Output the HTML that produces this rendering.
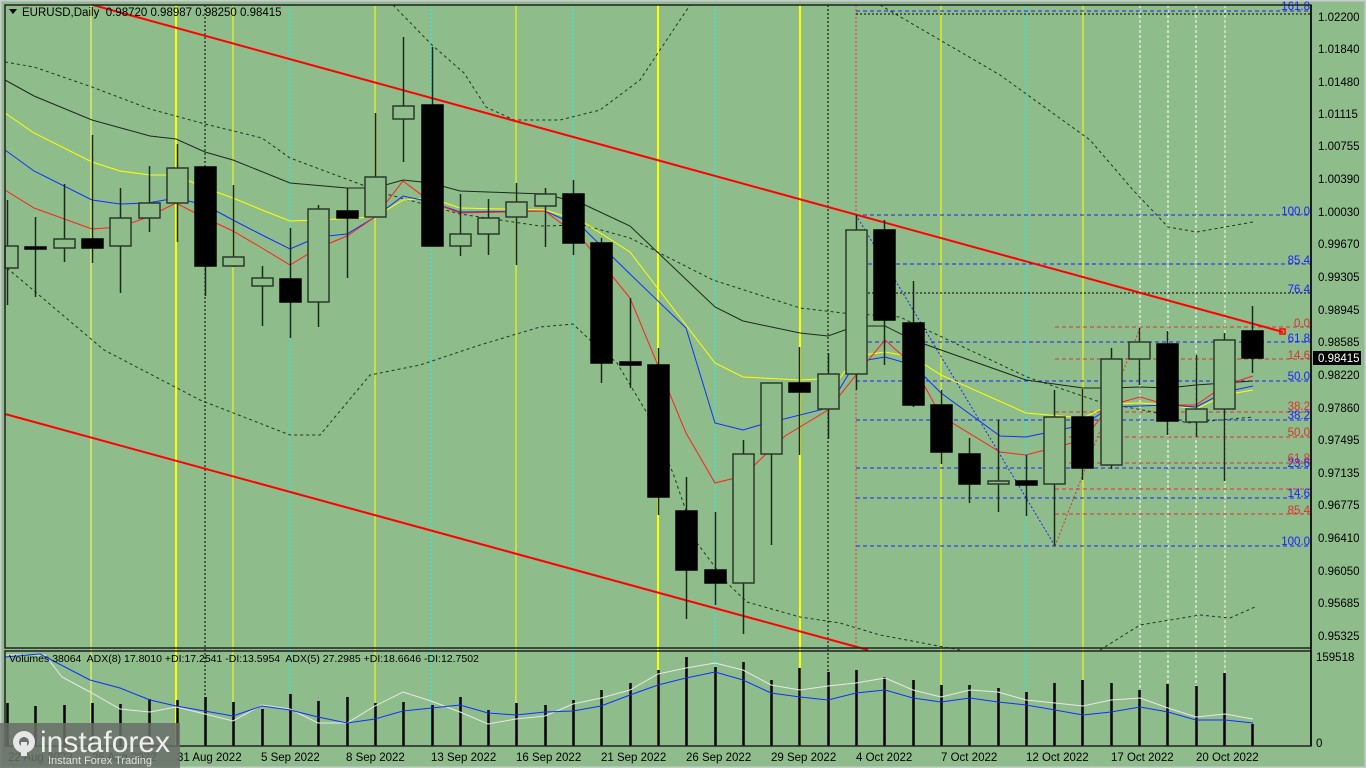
<!DOCTYPE html>
<html><head><meta charset="utf-8"><style>
html,body{margin:0;padding:0;background:#8fbc8b;width:1366px;height:768px;overflow:hidden}
svg{display:block}
text{font-family:"Liberation Sans",sans-serif;font-size:11.5px}
</style></head><body>
<svg id="s" width="1366" height="768" xmlns="http://www.w3.org/2000/svg">
<rect x="0" y="0" width="1366" height="768" fill="#8fbc8b"/>
<rect x="0.5" y="0.5" width="1365" height="767" fill="none" stroke="#c8ccd0" stroke-width="2"/>
<g stroke-width="1" fill="none">
<line x1="91" y1="5" x2="91" y2="746" stroke="#ffff66"/>
<line x1="176" y1="5" x2="176" y2="746" stroke="#ffff00" stroke-width="2"/>
<line x1="205" y1="5" x2="205" y2="746" stroke="#000" stroke-dasharray="2,2"/>
<line x1="233" y1="5" x2="233" y2="746" stroke="#ffff00"/>
<line x1="290" y1="5" x2="290" y2="746" stroke="#00ffff" stroke-dasharray="2,2"/>
<line x1="375" y1="5" x2="375" y2="746" stroke="#ffff00"/>
<line x1="431" y1="5" x2="431" y2="746" stroke="#00ffff" stroke-dasharray="2,2"/>
<line x1="516" y1="5" x2="516" y2="746" stroke="#ffff00"/>
<line x1="573" y1="5" x2="573" y2="746" stroke="#00ffff" stroke-dasharray="2,2"/>
<line x1="658" y1="5" x2="658" y2="746" stroke="#ffff00" stroke-width="2"/>
<line x1="715" y1="5" x2="715" y2="746" stroke="#00ffff" stroke-dasharray="2,2"/>
<line x1="800" y1="5" x2="800" y2="746" stroke="#ffff00" stroke-width="2"/>
<line x1="828" y1="5" x2="828" y2="746" stroke="#000" stroke-dasharray="2,2"/>
<line x1="856" y1="5" x2="856" y2="648" stroke="#ff3030" stroke-dasharray="2,2"/>
<line x1="941" y1="5" x2="941" y2="746" stroke="#ffff00"/>
<line x1="1026" y1="5" x2="1026" y2="746" stroke="#00ffff" stroke-dasharray="2,2"/>
<line x1="1083" y1="5" x2="1083" y2="746" stroke="#ffff00"/>
<line x1="1140" y1="5" x2="1140" y2="746" stroke="#ffffff" stroke-dasharray="3,2"/>
<line x1="1168" y1="5" x2="1168" y2="746" stroke="#ffffff" stroke-dasharray="3,2"/>
<line x1="1196" y1="5" x2="1196" y2="746" stroke="#ffffff" stroke-dasharray="3,2"/>
<line x1="1225" y1="5" x2="1225" y2="746" stroke="#ffffcc" stroke-dasharray="3,2"/>
</g>
<g fill="none" stroke-dasharray="4,3" stroke-width="1">
<line x1="856" y1="11" x2="1311" y2="11" stroke="#2020ff"/>
<line x1="856" y1="14" x2="1311" y2="14" stroke="#000" stroke-dasharray="2,2"/>
<line x1="856" y1="215" x2="1311" y2="215" stroke="#2020ff"/>
<line x1="868" y1="264" x2="1311" y2="264" stroke="#2020ff"/>
<line x1="868" y1="293" x2="1311" y2="293" stroke="#000" stroke-dasharray="2,2"/>
<line x1="868" y1="342" x2="1311" y2="342" stroke="#2020ff"/>
<line x1="856" y1="381" x2="1311" y2="381" stroke="#2020ff"/>
<line x1="856" y1="420" x2="1311" y2="420" stroke="#2020ff"/>
<line x1="856" y1="468" x2="1311" y2="468" stroke="#2020ff"/>
<line x1="856" y1="498" x2="1311" y2="498" stroke="#2020ff"/>
<line x1="856" y1="546" x2="1311" y2="546" stroke="#2020ff"/>
<line x1="1055" y1="327" x2="1311" y2="327" stroke="#e03030"/>
<line x1="1055" y1="359" x2="1311" y2="359" stroke="#e03030"/>
<line x1="1055" y1="412" x2="1311" y2="412" stroke="#e03030"/>
<line x1="1055" y1="437" x2="1311" y2="437" stroke="#e03030"/>
<line x1="1055" y1="463" x2="1311" y2="463" stroke="#e03030"/>
<line x1="1055" y1="489" x2="1311" y2="489" stroke="#e03030"/>
<line x1="1055" y1="514" x2="1311" y2="514" stroke="#e03030"/>
</g>
<polyline points="856,215 1055,546" stroke="#2020ff" stroke-dasharray="2,2" fill="none"/>
<polyline points="1055,546 1140,328" stroke="#e03030" stroke-dasharray="2,2" fill="none"/>
<g text-anchor="end" style="font-size:11px">
<text x="1310" y="10" fill="#2020ff">161.8</text>
<text x="1310" y="215" fill="#2020ff">100.0</text>
<text x="1310" y="264" fill="#2020ff">85.4</text>
<text x="1310" y="293" fill="#2020ff">76.4</text>
<text x="1310" y="327" fill="#e03030">0.0</text>
<text x="1310" y="342" fill="#2020ff">61.8</text>
<text x="1310" y="359" fill="#e03030">14.6</text>
<text x="1310" y="380" fill="#2020ff">50.0</text>
<text x="1310" y="410" fill="#e03030">38.2</text>
<text x="1310" y="419" fill="#2020ff">38.2</text>
<text x="1310" y="436" fill="#e03030">50.0</text>
<text x="1310" y="462" fill="#e03030">61.8</text>
<text x="1310" y="467" fill="#2020ff">23.6</text>
<text x="1310" y="497" fill="#2020ff">14.6</text>
<text x="1310" y="514" fill="#e03030">85.4</text>
<text x="1310" y="545" fill="#2020ff">100.0</text>
</g>
<g fill="none" stroke="#1a3a1a" stroke-dasharray="3,3" stroke-width="1">
<polyline points="5,62 34,67 92,87 150,109 205,124 262,138 290,158 357,183 390,195 460,214 540,226 583,225 630,238 713,280 800,308 843,313 900,317 927,330 1027,377 1100,402 1153,412 1187,423 1253,417"/>
<polyline points="393,5 432,45 464,73 486,107 514,120 560,120 600,110 640,80 690,5"/>
<polyline points="880,5 1000,75 1090,140 1133,190 1168,227 1197,232 1253,222"/>
<polyline points="7,268 104,350 200,400 290,435 320,435 370,375 420,365 480,345 540,327 573,324 590,340 617,363 647,413 673,473 697,543 727,583 747,602 800,617 840,623 880,635 960,650"/>
<polyline points="1100,650 1140,625 1200,615 1230,618 1255,607"/>
</g>
<g fill="none" stroke-width="1">
<polyline stroke="#1a2a1a" points="5,80 34,96 92,120 150,136 176,139 205,152 233,160 290,183 347,188 375,188 403,180 431,183 460,191 545,194 583,204 630,226 715,307 743,321 800,333 828,336 856,326 885,326 913,340 941,350 1026,380 1083,388 1111,388 1140,387 1168,388 1196,385 1253,381"/>
<polyline stroke="#ffff00" points="5,113 34,133 92,162 120,171 150,175 176,175 205,188 233,198 262,210 290,221 318,220 375,217 403,200 431,198 460,208 545,210 583,222 630,252 715,363 743,377 800,380 840,378 856,356 885,352 913,357 941,375 1026,413 1083,418 1111,404 1140,403 1168,405 1196,409 1225,395 1253,390"/>
<polyline stroke="#1030ff" points="5,150 34,171 92,200 120,204 148,203 176,198 205,205 233,220 262,235 290,249 318,237 347,234 375,217 403,196 431,202 460,212 545,211 583,228 630,274 686,328 715,423 743,430 760,425 828,408 856,362 885,357 913,365 941,393 1000,436 1026,437 1083,425 1111,407 1140,406 1168,405 1196,407 1225,392 1253,386"/>
<polyline stroke="#ff2020" points="5,190 34,208 92,229 120,227 148,217 176,203 205,218 233,231 262,248 290,265 318,248 347,236 375,217 403,181 431,202 460,213 545,211 583,240 630,298 686,433 715,483 743,476 785,436 828,410 856,375 885,340 913,365 941,416 1000,452 1026,455 1083,440 1111,405 1140,397 1168,405 1196,405 1225,385 1253,376"/>
</g>
<line x1="93" y1="5" x2="1283" y2="332" stroke="#ff0000" stroke-width="2"/>
<rect x="1280" y="329" width="5" height="5" fill="none" stroke="#ff0000" stroke-width="1.5"/>
<line x1="5" y1="414" x2="868" y2="650" stroke="#ff0000" stroke-width="2"/>
<g id="candles"></g>
<g id="vols"></g>
<polyline fill="none" stroke="#e8e8e8" stroke-width="1" points="5,655 45,655 62,677 90,692 120,709 150,712 176,707 205,714 233,721 262,705 290,709 318,723 347,723 375,706 403,692 431,701 460,712 488,724 516,719 545,716 573,704 601,698 630,690 658,674 686,668 715,663 743,670 771,685 800,690 828,686 856,683 885,678 913,690 941,697 970,690 998,692 1026,700 1055,703 1083,706 1111,700 1140,698 1168,708 1196,717 1225,714 1253,719"/>
<polyline fill="none" stroke="#1030ff" stroke-width="1" points="5,657 40,654 90,680 120,688 150,700 176,706 233,716 262,706 290,710 318,717 347,723 375,719 403,711 460,705 488,713 516,715 545,712 573,711 601,706 630,695 658,685 686,678 715,672 743,680 771,693 800,697 828,700 856,693 885,690 913,698 941,702 970,698 998,702 1026,705 1055,710 1083,715 1111,712 1140,707 1168,712 1196,720 1225,720 1253,723"/>
<rect x="5" y="5" width="1306" height="643" fill="none" stroke="#222" stroke-width="1.5"/>
<rect x="5" y="651" width="1306" height="95" fill="none" stroke="#222" stroke-width="1.5"/>
<line x1="1311" y1="5" x2="1311" y2="746" stroke="#000" stroke-width="1.5"/>
<polygon points="9,9 17,9 13,14" fill="#000"/>
<text x="22" y="16" fill="#000" xml:space="preserve">EURUSD,Daily  0.98720 0.98987 0.98250 0.98415</text>
<text x="9" y="662" fill="#000" style="font-size:10.5px" xml:space="preserve">Volumes 38064  ADX(8) 17.8010 +DI:17.2541 -DI:13.5954  ADX(5) 27.2985 +DI:18.6646 -DI:12.7502</text>
<g fill="#000">
<text x="1318" y="21">1.02200</text>
<text x="1318" y="53">1.01840</text>
<text x="1318" y="86">1.01480</text>
<text x="1318" y="118">1.01115</text>
<text x="1318" y="150">1.00755</text>
<text x="1318" y="183">1.00390</text>
<text x="1318" y="216">1.00030</text>
<text x="1318" y="248">0.99670</text>
<text x="1318" y="281">0.99305</text>
<text x="1318" y="314">0.98945</text>
<text x="1318" y="346">0.98585</text>
<text x="1318" y="379">0.98220</text>
<text x="1318" y="412">0.97860</text>
<text x="1318" y="444">0.97495</text>
<text x="1318" y="477">0.97135</text>
<text x="1318" y="509">0.96775</text>
<text x="1318" y="542">0.96410</text>
<text x="1318" y="575">0.96050</text>
<text x="1318" y="607">0.95685</text>
<text x="1318" y="640">0.95325</text>
<text x="1316" y="661">159518</text>
<text x="1316" y="747">0</text>
</g>
<rect x="1313" y="351" width="48" height="14" fill="#000"/>
<text x="1318" y="362" fill="#fff">0.98415</text>
<g fill="#000">
<text x="8" y="761">22 Aug 2022</text>
<text x="92" y="761">26 Aug 2022</text>
<text x="177" y="761">31 Aug 2022</text>
<text x="261" y="761">5 Sep 2022</text>
<text x="346" y="761">8 Sep 2022</text>
<text x="431" y="761">13 Sep 2022</text>
<text x="516" y="761">16 Sep 2022</text>
<text x="601" y="761">21 Sep 2022</text>
<text x="686" y="761">26 Sep 2022</text>
<text x="771" y="761">29 Sep 2022</text>
<text x="856" y="761">4 Oct 2022</text>
<text x="941" y="761">7 Oct 2022</text>
<text x="1026" y="761">12 Oct 2022</text>
<text x="1111" y="761">17 Oct 2022</text>
<text x="1196" y="761">20 Oct 2022</text>
</g>
<rect x="0" y="723" width="180" height="45" fill="#6a6f6a" opacity="0.85"/>
<g fill="#e6e6e6">
<circle cx="24" cy="742" r="11"/>
<circle cx="24" cy="742" r="5" fill="#6a6f6a"/>
<rect x="21" y="742" width="6" height="14"/>
</g>
<text x="40" y="752" fill="#eeeeee" style="font-size:30px">instaforex</text>
<text x="48" y="764" fill="#e0e0e0" style="font-size:11px">Instant Forex Trading</text>
</svg>
<script>
var C=[[246,268,200,305,0],[247,249,217,297,1],[239,248,184,262,0],[239,248,135,263,1],[218,246,188,293,0],[203,218,166,232,0],[168,203,144,242,0],[167,266,167,296,1],[257,266,185,267,0],[278,286,266,326,0],[279,302,228,338,1],[209,302,205,327,0],[211,218,188,278,1],[177,217,113,217,0],[106,119,37,162,0],[105,246,47,246,1],[234,246,194,256,0],[218,234,199,255,0],[202,217,183,265,0],[194,206,188,247,0],[194,243,180,255,1],[243,363,238,383,1],[362,365,298,388,1],[365,497,348,515,1],[511,570,477,619,1],[570,583,512,605,1],[454,583,440,634,0],[383,454,383,545,0],[383,392,347,455,1],[374,409,353,439,0],[230,374,215,390,0],[230,320,220,365,1],[323,405,281,407,1],[405,452,390,464,1],[454,484,438,503,1],[481,484,420,512,0],[481,485,455,516,1],[417,484,390,546,0],[417,468,389,480,1],[359,465,348,469,0],[342,359,328,385,0],[344,421,331,435,1],[409,422,355,437,0],[340,409,333,481,0],[331,358,306,373,1]];
var V=[703,706,705,703,704,699,700,697,702,709,694,701,697,703,702,705,697,710,703,705,700,690,683,670,657,667,662,680,668,672,670,677,680,685,685,688,692,683,680,683,690,684,686,673,724];
var NS="http://www.w3.org/2000/svg";
function el(p,t,a){var e=document.createElementNS(NS,t);for(var k in a)e.setAttribute(k,a[k]);p.appendChild(e);return e;}
var g=document.getElementById("candles"),gv=document.getElementById("vols");
for(var i=0;i<C.length;i++){var x=Math.round(7+28.3*i)+0.5,c=C[i];
el(g,"line",{x1:x,y1:c[2],x2:x,y2:c[3],stroke:"#1a2a1a","stroke-width":1.5});
var x0=Math.max(5,x-10.5);
el(g,"rect",{x:x0,y:c[0],width:(x+10.5)-x0,height:Math.max(2,c[1]-c[0]),fill:c[4]?"#000":"#8fbc8b",stroke:c[4]?"#000":"#2a3a2a","stroke-width":1.5});
el(gv,"line",{x1:x,y1:V[i],x2:x,y2:746,stroke:"#000","stroke-width":2.5});}
</script>
</body></html>
